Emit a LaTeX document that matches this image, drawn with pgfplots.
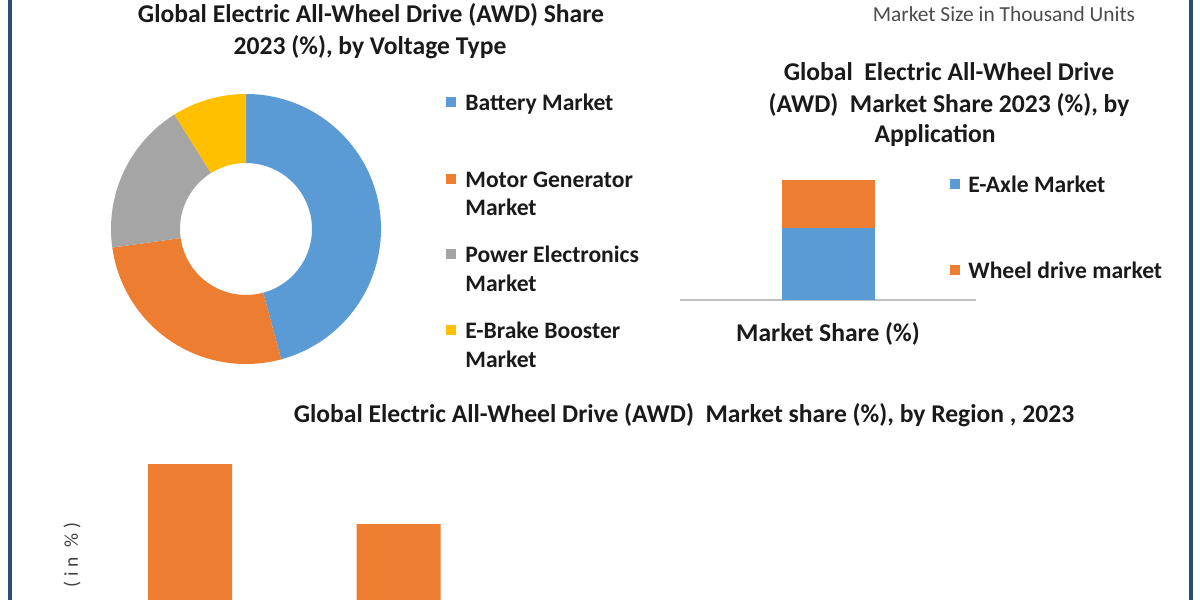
\documentclass[border=0pt]{standalone}
\usepackage{pgfplots}
\pgfplotsset{compat=1.18}
\usepackage{pgfplotstable}
\usepackage{fontspec}
\setmainfont{Carlito}
\definecolor{cblue}{HTML}{5B9BD5}
\definecolor{corange}{HTML}{ED7D31}
\definecolor{cgray}{HTML}{A5A5A5}
\definecolor{cyellow}{HTML}{FFC000}
\definecolor{cborder}{HTML}{2E4B73}
\definecolor{ctext}{HTML}{1A1A1A}

\pgfplotstableread{
segment share
Battery 45.8
Motor 27.0
Power 18.3
EBrake 8.9
}\voltagedata

\pgfplotstableread{
x eaxle wheel
0 60 40
}\appdata

\pgfplotstableread{
x share
0 38
1 28
2 14
3 9
4 6
}\regiondata

\begin{document}
\begin{tikzpicture}[x=0.5pt,y=0.5pt]
\path[use as bounding box] (0,0) rectangle (1200,600);
\fill[white] (0,0) rectangle (1200,600);
\fill[cborder] (8,0) rectangle (12,600);
\fill[cborder] (1189,0) rectangle (1193,600);
\coordinate (Dc) at (246,371);
\coordinate (Sc) at (680,300);
\coordinate (Rc) at (85.75,-92);

% ---------- donut ----------
\pgfplotstablegetelem{0}{share}\of\voltagedata \let\vA\pgfplotsretval
\pgfplotstablegetelem{1}{share}\of\voltagedata \let\vB\pgfplotsretval
\pgfplotstablegetelem{2}{share}\of\voltagedata \let\vC\pgfplotsretval
\pgfplotstablegetelem{3}{share}\of\voltagedata \let\vD\pgfplotsretval
\pgfmathsetmacro\aO{90}
\pgfmathsetmacro\aA{90-3.6*\vA}
\pgfmathsetmacro\aB{\aA-3.6*\vB}
\pgfmathsetmacro\aC{\aB-3.6*\vC}
\pgfmathsetmacro\aD{\aC-3.6*\vD}
\def\ri{0.489}
\begin{axis}[at={(Dc)}, anchor=center, hide axis, scale only axis,
  width=135pt, height=135pt, xmin=-1, xmax=1, ymin=-1, ymax=1, clip=false]
\fill[cblue] (axis cs:{cos(\aO)},{sin(\aO)}) arc[start angle=\aO,end angle=\aA,radius=67.5pt]
  -- (axis cs:{\ri*cos(\aA)},{\ri*sin(\aA)}) arc[start angle=\aA,end angle=\aO,radius=33pt] -- cycle;
\fill[corange] (axis cs:{cos(\aA)},{sin(\aA)}) arc[start angle=\aA,end angle=\aB,radius=67.5pt]
  -- (axis cs:{\ri*cos(\aB)},{\ri*sin(\aB)}) arc[start angle=\aB,end angle=\aA,radius=33pt] -- cycle;
\fill[cgray] (axis cs:{cos(\aB)},{sin(\aB)}) arc[start angle=\aB,end angle=\aC,radius=67.5pt]
  -- (axis cs:{\ri*cos(\aC)},{\ri*sin(\aC)}) arc[start angle=\aC,end angle=\aB,radius=33pt] -- cycle;
\fill[cyellow] (axis cs:{cos(\aC)},{sin(\aC)}) arc[start angle=\aC,end angle=\aD,radius=67.5pt]
  -- (axis cs:{\ri*cos(\aD)},{\ri*sin(\aD)}) arc[start angle=\aD,end angle=\aC,radius=33pt] -- cycle;
\end{axis}

% titles
\begin{scope}[every node/.style={text=ctext, font=\bfseries\fontsize{12.8}{15}\selectfont, inner sep=0pt}]
\node[anchor=base] at (371,577) {Global Electric All-Wheel Drive (AWD) Share};
\node[anchor=base] at (370,545) {2023 (\%), by Voltage Type};
\node[anchor=base] at (949,519) {Global\ \ Electric All-Wheel Drive};
\node[anchor=base] at (949,487) {(AWD)\ \ Market Share 2023 (\%), by};
\node[anchor=base] at (935,457) {Application};
\node[anchor=base] at (828,258) {Market Share (\%)};
\node[anchor=base] at (684,177) {Global Electric All-Wheel Drive (AWD)\ \ Market share (\%), by Region , 2023};
\end{scope}

\node[anchor=base, inner sep=0pt, text=black!70, font=\fontsize{10.7}{13}\selectfont] at (1004,578) {Market Size in Thousand Units};

% legends
\begin{scope}[every node/.style={text=ctext, font=\bfseries\fontsize{11.8}{14}\selectfont, inner sep=0pt, anchor=base west}]
\fill[cblue] (446,493) rectangle (456,503);
\node at (465,489) {Battery Market};
\fill[corange] (446,416) rectangle (456,426);
\node at (465,412) {Motor Generator};
\node at (465,384) {Market};
\fill[cgray] (446,341) rectangle (456,351);
\node at (465,337) {Power Electronics};
\node at (465,308) {Market};
\fill[cyellow] (446,265) rectangle (456,275);
\node at (465,261) {E-Brake Booster};
\node at (465,232) {Market};
\fill[cblue] (950,411) rectangle (960,421);
\node at (968,407) {E-Axle Market};
\fill[corange] (950,325) rectangle (960,335);
\node at (968,321) {Wheel drive market};
\end{scope}

% ---------- stacked bar ----------
\begin{axis}[at={(Sc)}, anchor=south west, scale only axis,
  width=148pt, height=60pt, xmin=-1, xmax=1, ymin=0, ymax=100,
  hide axis, ybar stacked, bar width=46.5pt, clip=false]
\addplot[fill=cblue, draw=none] table[x=x, y=eaxle] {\appdata};
\addplot[fill=corange, draw=none] table[x=x, y=wheel] {\appdata};
\draw[black!25, line width=0.8pt] (axis cs:-1,0) -- (axis cs:1,0);
\end{axis}

% ---------- region bars (cut off at bottom) ----------
\begin{scope}
\clip (0,0) rectangle (1200,600);
\begin{axis}[at={(Rc)}, anchor=south west, scale only axis,
  width=521.25pt, height=150pt, xmin=-0.5, xmax=4.5, ymin=0, ymax=50,
  hide axis, ybar, bar width=42pt, clip=false]
\addplot[fill=corange, draw=none] table[x=x, y=share] {\regiondata};
\end{axis}
\end{scope}
\node[rotate=90, inner sep=0pt, text=black!75, font=\fontsize{9.8}{12}\selectfont\addfontfeature{LetterSpace=25}] at (72,45) {(in \%)};
\end{tikzpicture}
\end{document}
